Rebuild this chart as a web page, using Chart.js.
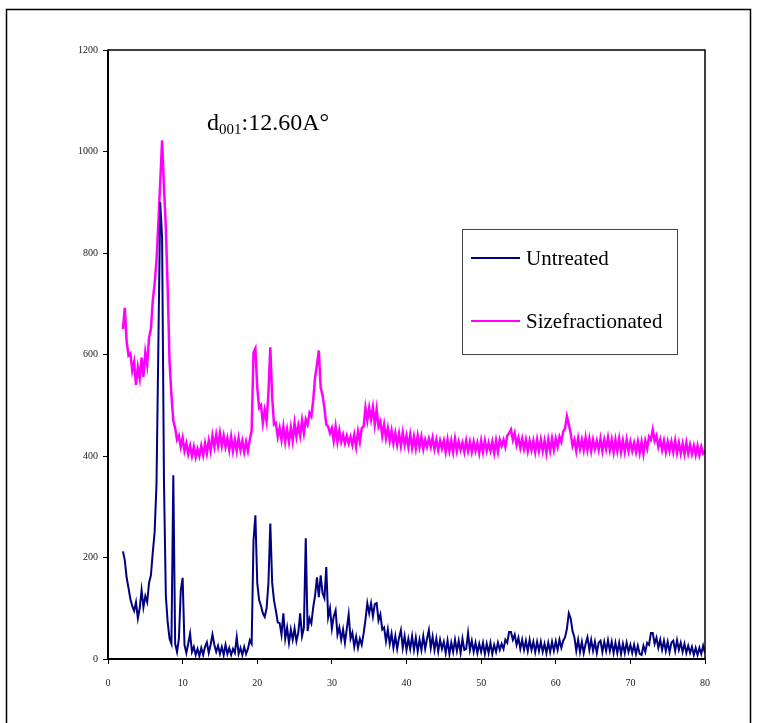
<!DOCTYPE html>
<html>
<head>
<meta charset="utf-8">
<script src="https://cdn.jsdelivr.net/npm/chart.js@4.4.0/dist/chart.umd.min.js"></script>
<style>
  html, body { margin: 0; padding: 0; background: #fff; }
  #wrap { position: relative; width: 759px; height: 723px; }
</style>
</head>
<body>
<div id="wrap"><canvas id="xrd" width="759" height="723"></canvas></div>
<script>
// scan grid: 2-theta from 2 to 80 degrees, 0.25 degree step
const scanStart = 2;
const scanStep = 0.25;

// intensities, one row per degree (x.00, x.25, x.50, x.75)
const untreated = [
  212, 195, 160, 140,   // 2
  118, 104, 95, 112,
  80, 100, 136, 102,
  124, 112, 150, 165,
  210, 250, 345, 620,   // 6
  900, 830, 350, 125,
  72, 40, 30, 362,
  30, 14, 40, 135,
  160, 28, 12, 30,      // 10
  50, 14, 24, 8,
  20, 6, 22, 8,
  24, 33, 12, 28,
  48, 28, 14, 26,
  10, 24, 8, 28,
  10, 22, 8, 20,
  12, 43, 10, 22,
  8, 24, 10, 20,
  37, 30, 234, 283,
  150, 116, 105, 90,    // 20
  83, 100, 150, 267,
  150, 115, 95, 72,
  71, 48, 90, 40,
  62, 32, 58, 38,
  60, 35, 52, 90,
  45, 62, 238, 55,
  80, 70, 102, 125,
  161, 122, 165, 130,
  120, 181, 82, 100,
  60, 84, 96, 48,       // 30
  62, 38, 58, 32,
  60, 88, 40, 52,
  24, 44, 22, 40,
  28, 50, 77, 110,
  90, 110, 84, 108,
  110, 76, 88, 58,
  62, 35, 58, 30,
  50, 22, 45, 20,
  42, 57, 22, 45,
  18, 40, 20, 45,       // 40
  18, 42, 15, 38,
  18, 45, 20, 40,
  57, 22, 44, 18,
  40, 15, 38, 20,
  34, 12, 36, 10,
  32, 14, 38, 16,
  36, 12, 40, 18,
  20, 51, 18, 36,
  14, 32, 12, 30,
  14, 32, 10, 30,       // 50
  12, 32, 10, 28,
  14, 32, 18, 30,
  20, 38, 32, 53,
  53, 38, 48, 28,
  42, 20, 38, 18,
  36, 16, 38, 18,
  34, 14, 34, 16,
  34, 14, 30, 12,
  32, 14, 34, 16,
  35, 18, 38, 22,       // 60
  36, 43, 60, 90,
  80, 55, 43, 16,
  38, 14, 34, 12,
  30, 43, 18, 38,
  16, 34, 12, 32,
  36, 14, 34, 16,
  37, 16, 34, 12,
  32, 12, 32, 10,
  30, 12, 32, 14,
  28, 12, 28, 10,       // 70
  26, 10, 8, 26,
  14, 32, 28, 51,
  51, 30, 42, 22,
  38, 18, 36, 16,
  34, 14, 32, 36,
  16, 37, 18, 32,
  14, 30, 12, 26,
  12, 24, 8, 22,
  8, 22, 10, 26,
  12                    // 80
];

const sizeFractionated = [
  650, 692, 625, 598,   // 2
  602, 568, 585, 540,
  575, 553, 594, 556,
  604, 580, 633, 650,
  706, 740, 785, 860,   // 6
  940, 1022, 930, 850,
  730, 585, 520, 470,
  455, 432, 440, 418,
  436, 410, 425, 404,   // 10
  420, 400, 418, 398,
  414, 400, 420, 402,
  425, 405, 430, 410,
  440, 418, 442, 420,
  445, 420, 440, 418,
  435, 412, 438, 410,
  432, 410, 435, 412,
  430, 408, 428, 410,
  432, 450, 604, 612,
  535, 495, 500, 465,   // 20
  490, 468, 525, 614,
  516, 462, 465, 438,
  455, 432, 458, 428,
  452, 428, 456, 430,
  465, 438, 460, 440,
  470, 445, 472, 462,
  485, 478, 510, 555,
  580, 608, 535, 520,
  495, 462, 458, 445,
  455, 430, 458, 428,   // 30
  450, 428, 442, 425,
  440, 425, 438, 422,
  442, 418, 448, 428,
  455, 458, 495, 470,
  495, 472, 496, 462,
  492, 458, 468, 440,
  462, 435, 455, 430,
  450, 425, 445, 422,
  444, 420, 446, 422,
  440, 418, 442, 416,   // 40
  438, 415, 440, 418,
  438, 414, 432, 418,
  434, 418, 436, 414,
  432, 412, 430, 415,
  430, 408, 432, 410,
  430, 408, 434, 410,
  428, 412, 426, 408,
  430, 410, 428, 408,
  428, 410, 426, 406,
  430, 408, 430, 410,   // 50
  426, 410, 428, 406,
  430, 408, 432, 420,
  432, 418, 440, 445,
  452, 432, 445, 422,
  436, 416, 434, 414,
  432, 410, 430, 412,
  430, 408, 432, 410,
  432, 410, 430, 406,
  432, 410, 434, 412,
  434, 418, 438, 428,   // 60
  448, 455, 478, 462,
  445, 420, 432, 410,
  435, 414, 432, 412,
  436, 412, 434, 410,
  432, 414, 430, 412,
  434, 410, 432, 414,
  436, 412, 432, 408,
  432, 410, 434, 408,
  430, 408, 432, 410,
  428, 410, 426, 408,   // 70
  428, 406, 428, 404,
  430, 415, 438, 432,
  452, 430, 440, 418,
  432, 412, 430, 408,
  428, 410, 428, 408,
  430, 406, 426, 405,
  424, 404, 426, 405,
  422, 404, 420, 402,
  420, 402, 418, 405,
  410                   // 80
];

const seriesNames = ['Untreated', 'Sizefractionated'];
const seriesColors = ['#000080', '#ff00ff'];
const xRange = [0, 80];
const yRange = [0, 1200];
const xStep = 10;
const yStep = 200;

function toPoints(values) {
  return values.map((v, i) => ({ x: scanStart + i * scanStep, y: v }));
}

const serif = 'Liberation Serif, Times New Roman, serif';

// frame, legend box and d-spacing note
const decorations = {
  id: 'decorations',
  beforeDraw(chart) {
    const ctx = chart.ctx;
    ctx.save();
    ctx.strokeStyle = '#000';
    ctx.lineWidth = 1.5;
    ctx.beginPath();
    ctx.moveTo(6.5, 723);
    ctx.lineTo(6.5, 9.5);
    ctx.lineTo(750.5, 9.5);
    ctx.lineTo(750.5, 723);
    ctx.stroke();
    ctx.restore();
  },
  afterDatasetsDraw(chart) {
    const ctx = chart.ctx;
    const a = chart.chartArea;
    ctx.save();

    // plot frame
    ctx.strokeStyle = '#000';
    ctx.lineWidth = 1.5;
    ctx.beginPath();
    ctx.moveTo(a.left, a.top);
    ctx.lineTo(a.right, a.top);
    ctx.lineTo(a.right, a.bottom);
    ctx.stroke();
    ctx.lineWidth = 2;
    ctx.beginPath();
    ctx.moveTo(a.left, a.top - 0.5);
    ctx.lineTo(a.left, a.bottom);
    ctx.lineTo(a.right + 0.5, a.bottom);
    ctx.stroke();

    // legend
    ctx.fillStyle = '#fff';
    ctx.fillRect(462.5, 229.5, 215, 125);
    ctx.strokeStyle = '#444';
    ctx.lineWidth = 1;
    ctx.strokeRect(462.5, 229.5, 215, 125);
    const rows = [258, 321];
    ctx.font = '21px ' + serif;
    ctx.textBaseline = 'alphabetic';
    ctx.textAlign = 'left';
    seriesNames.forEach((name, i) => {
      ctx.strokeStyle = seriesColors[i];
      ctx.lineWidth = 2;
      ctx.beginPath();
      ctx.moveTo(471, rows[i]);
      ctx.lineTo(520, rows[i]);
      ctx.stroke();
      ctx.fillStyle = '#000';
      ctx.fillText(name, 526, rows[i] + 7);
    });

    // basal spacing note
    let x = 207;
    ctx.font = '24px ' + serif;
    ctx.fillText('d', x, 130);
    x += ctx.measureText('d').width;
    ctx.font = '15px ' + serif;
    ctx.fillText('001', x, 134);
    x += ctx.measureText('001').width;
    ctx.font = '24px ' + serif;
    ctx.fillText(':12.60A\u00b0', x, 130);

    ctx.restore();
  }
};

const tickFont = { family: serif, size: 10 };

new Chart(document.getElementById('xrd'), {
  type: 'line',
  data: {
    datasets: [
      {
        label: seriesNames[0],
        data: toPoints(untreated),
        borderColor: seriesColors[0],
        borderWidth: 2,
        pointRadius: 0,
        tension: 0
      },
      {
        label: seriesNames[1],
        data: toPoints(sizeFractionated),
        borderColor: seriesColors[1],
        borderWidth: 2.5,
        pointRadius: 0,
        tension: 0
      }
    ]
  },
  options: {
    responsive: false,
    animation: false,
    events: [],
    layout: { padding: { left: 0, top: 50, right: 54, bottom: 0 } },
    plugins: {
      legend: { display: false },
      tooltip: { enabled: false }
    },
    scales: {
      x: {
        type: 'linear',
        min: xRange[0],
        max: xRange[1],
        afterFit: s => { s.height = 64; },
        border: { display: false },
        grid: { drawOnChartArea: false, tickLength: 5, tickColor: '#000', tickWidth: 1 },
        ticks: { stepSize: xStep, font: tickFont, color: '#222', padding: 13, maxRotation: 0, callback: v => String(v) }
      },
      y: {
        min: yRange[0],
        max: yRange[1],
        afterFit: s => { s.width = 108; },
        border: { display: false },
        grid: { drawOnChartArea: false, tickLength: 5, tickColor: '#000', tickWidth: 1 },
        ticks: { stepSize: yStep, font: tickFont, color: '#222', padding: 5, callback: v => String(v) }
      }
    }
  },
  plugins: [decorations]
});
</script>
</body>
</html>
